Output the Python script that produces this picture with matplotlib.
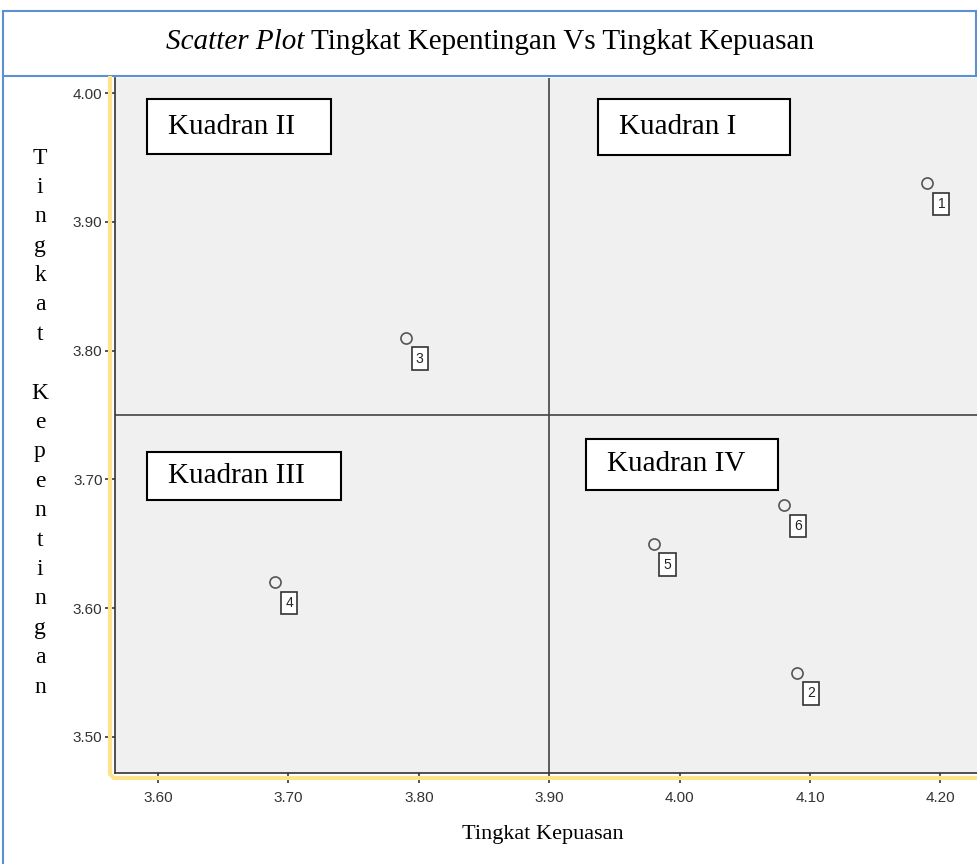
import matplotlib
matplotlib.use("Agg")
import matplotlib.pyplot as plt
from matplotlib.lines import Line2D
from matplotlib.patches import Rectangle

# Data
labels = ["1", "2", "3", "4", "5", "6"]
kepuasan = [4.19, 4.09, 3.79, 3.69, 3.98, 4.08]       # x
kepentingan = [3.93, 3.55, 3.81, 3.62, 3.65, 3.68]    # y
x_ticks = [3.60, 3.70, 3.80, 3.90, 4.00, 4.10, 4.20]
y_ticks = [3.50, 3.60, 3.70, 3.80, 3.90, 4.00]
x_mean = 3.90
y_mean = 3.75
quadrants = ["Kuadran I", "Kuadran II", "Kuadran III", "Kuadran IV"]

W, H = 977, 864
fig = plt.figure(figsize=(W / 100, H / 100), dpi=100)

def fx(px):
    return px / W

def fy(py):
    return 1 - py / H

serif = ["Liberation Serif", "DejaVu Serif"]
sans = ["Liberation Sans", "DejaVu Sans"]

# Outer frame (blue)
blue = "#5b8fd6"
fig.add_artist(Line2D([fx(3), fx(3)], [fy(11), fy(864)], color=blue, lw=1.5))
fig.add_artist(Line2D([fx(3), fx(976)], [fy(11), fy(11)], color=blue, lw=1.5))
fig.add_artist(Line2D([fx(3), fx(976)], [fy(76), fy(76)], color=blue, lw=1.5))
fig.add_artist(Line2D([fx(976), fx(976)], [fy(11), fy(76)], color=blue, lw=1.5))

# Title (italic part + regular part, centred together)
title_y = fy(42)
t_it = fig.text(0, title_y, "Scatter Plot", fontstyle="italic", family=serif,
                fontsize=21, ha="left", va="center")
t_rg = fig.text(0, title_y, "Tingkat Kepentingan Vs Tingkat Kepuasan", family=serif,
                fontsize=21, ha="left", va="center")
fig.canvas.draw()
r = fig.canvas.get_renderer()
w1 = t_it.get_window_extent(r).width
w2 = t_rg.get_window_extent(r).width
gap = 6
total = w1 + gap + w2
start = 490 - total / 2
t_it.set_x(fx(start))
t_rg.set_x(fx(start + w1 + gap))

# Axes
ax_l, ax_r, ax_t, ax_b = 115, 977, 78, 773
ax = fig.add_axes([fx(ax_l), fy(ax_b), fx(ax_r - ax_l), (ax_b - ax_t) / H])
ax.set_facecolor("#f0f0f0")
ax.set_xlim(3.567, 4.228)
ax.set_ylim(3.472, 4.0117)
for s in ["top", "right"]:
    ax.spines[s].set_visible(False)
for s in ["left", "bottom"]:
    ax.spines[s].set_color("#333333")
    ax.spines[s].set_linewidth(1.2)

ax.set_xticks(x_ticks)
ax.set_xticklabels([f"{v:.2f}" for v in x_ticks])
ax.set_yticks(y_ticks)
ax.set_yticklabels([f"{v:.2f}" for v in y_ticks])
ax.tick_params(axis="both", direction="out", length=7, width=1.2, color="#333333",
               labelsize=11, labelcolor="#333333", pad=2)
for lab in ax.get_xticklabels() + ax.get_yticklabels():
    lab.set_family(sans)
ax.tick_params(axis="x", pad=6)

# Reference lines
ax.axvline(x_mean, color="#444444", lw=1.2)
ax.axhline(y_mean, color="#444444", lw=1.2)

# Points
ax.plot(kepuasan, kepentingan, linestyle="none", marker="o", markersize=8,
        markerfacecolor="none", markeredgecolor="#555555", markeredgewidth=1.2)
for lab, xv, yv in zip(labels, kepuasan, kepentingan):
    ax.annotate(lab, (xv, yv), xytext=(10, -15), textcoords="offset points",
                ha="center", va="center", fontsize=10, family=sans, color="#222222",
                bbox=dict(boxstyle="square,pad=0.3", fc="white", ec="#333333", lw=1.2))

# Quadrant label boxes (pixel positions of box)
qboxes = {
    "Kuadran I": (598, 99, 790, 155),
    "Kuadran II": (147, 99, 331, 154),
    "Kuadran III": (147, 452, 341, 500),
    "Kuadran IV": (586, 439, 778, 490),
}
for q in quadrants:
    x0, y0, x1, y1 = qboxes[q]
    fig.add_artist(Rectangle((fx(x0), fy(y1)), fx(x1 - x0), (y1 - y0) / H,
                             fill=True, fc="white", ec="black", lw=1.5,
                             transform=fig.transFigure, zorder=5))
    fig.text(fx(x0 + 21), fy((y0 + y1) / 2), q, family=serif, fontsize=21,
             ha="left", va="center", zorder=6)

# Yellow highlight
yellow = "#ffe38a"
fig.add_artist(Line2D([fx(110), fx(110), fx(114), fx(977)],
                      [fy(78), fy(774), fy(778), fy(778)], color=yellow, lw=3,
                      solid_joinstyle="round"))

# Axis labels
fig.text(fx(543), fy(834), "Tingkat Kepuasan", family=serif, fontsize=16,
         ha="center", va="center")
ylab = "Tingkat Kepentingan"
y0 = 158
step = 29.4
for i, ch in enumerate(ylab):
    if ch == " ":
        continue
    fig.text(fx(40), fy(y0 + i * step), ch, family=serif, fontsize=17,
             ha="center", va="center")

fig.savefig("out.png", dpi=100)
